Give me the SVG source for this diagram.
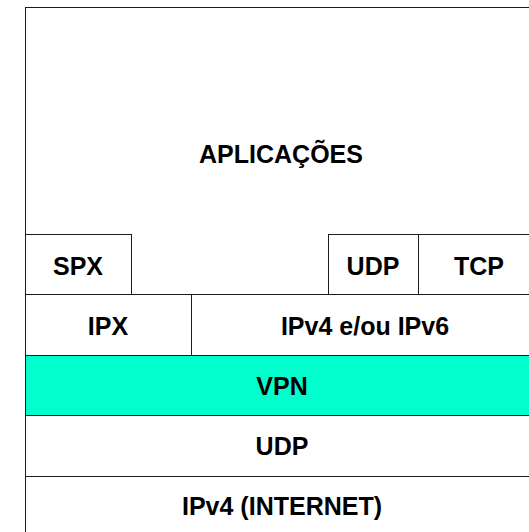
<svg xmlns="http://www.w3.org/2000/svg" width="529" height="532" viewBox="0 0 529 532">
  <style>
    .cell { fill: #ffffff; stroke: #1a1a1a; stroke-width: 1; }
    .vpn { fill: #00ffcc; }
    .lbl { font-family: "Liberation Sans", Arial, sans-serif; font-weight: bold; font-size: 25px; fill: #000000; text-anchor: middle; }
  </style>
  <rect width="529" height="532" fill="#ffffff"/>

  <!-- Protocol stack layers, bottom to top -->
  <g id="ipv4-internet">
    <rect class="cell" x="25.5" y="476.5" width="520" height="60"/>
    <text class="lbl" x="282" y="515">IPv4 (INTERNET)</text>
  </g>
  <g id="udp-transport">
    <rect class="cell" x="25.5" y="415.5" width="520" height="61"/>
    <text class="lbl" x="282" y="455">UDP</text>
  </g>
  <g id="vpn">
    <rect class="cell vpn" x="25.5" y="355.5" width="520" height="60"/>
    <text class="lbl" x="282" y="395">VPN</text>
  </g>
  <g id="ipx">
    <rect class="cell" x="25.5" y="294.5" width="166" height="61"/>
    <text class="lbl" x="108" y="335">IPX</text>
  </g>
  <g id="ipv4-ipv6">
    <rect class="cell" x="191.5" y="294.5" width="354" height="61"/>
    <text class="lbl" x="365" y="335">IPv4 e/ou IPv6</text>
  </g>
  <g id="aplicacoes">
    <rect class="cell" x="25.5" y="7.5" width="520" height="287"/>
    <text class="lbl" x="281" y="163">APLICAÇÕES</text>
  </g>
  <g id="spx">
    <rect class="cell" x="25.5" y="234.5" width="106" height="60"/>
    <text class="lbl" x="78" y="275">SPX</text>
  </g>
  <g id="udp-app">
    <rect class="cell" x="328.5" y="234.5" width="90" height="60"/>
    <text class="lbl" x="373" y="275">UDP</text>
  </g>
  <g id="tcp">
    <rect class="cell" x="418.5" y="234.5" width="127" height="60"/>
    <text class="lbl" x="479" y="275">TCP</text>
  </g>

  <g id="connectors"></g>
</svg>
